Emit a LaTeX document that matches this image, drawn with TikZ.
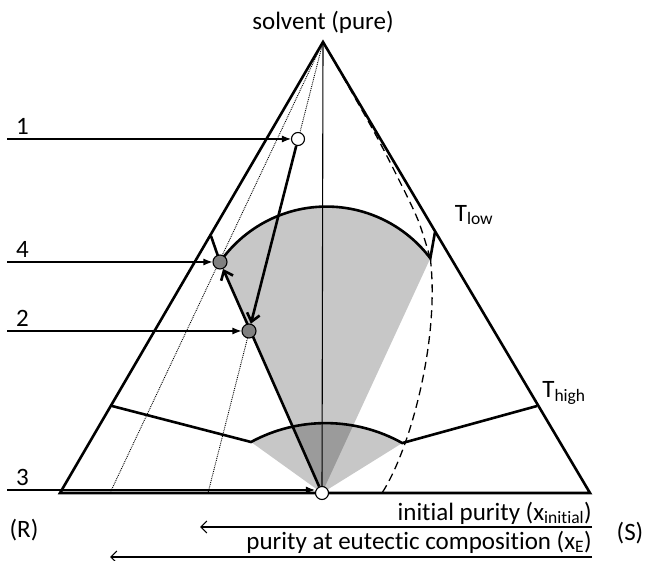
\documentclass[tikz,border=0pt]{standalone}
\usepackage{fontspec}
\setmainfont{Carlito}[Ligatures=CommonOff]
\usetikzlibrary{arrows.meta}
\pgfdeclarelayer{back}
\pgfsetlayers{back,main}

\begin{document}
\begin{tikzpicture}[x=1pt, y=1pt, font=\fontsize{25}{30}\selectfont,
    edge/.style={line width=2.6pt, line join=miter},
    tie/.style={line width=2.6pt},
    guide/.style={line width=0.9pt, densely dotted},
    eutectic/.style={line width=1.3pt, dash pattern=on 8pt off 5pt},
    pointer/.style={line width=1.1pt, -{Latex[length=9pt, width=7pt]}},
    move/.style={line width=2.6pt, -{Straight Barb[length=8pt, width=13pt, line width=2.6pt]}},
    purity/.style={line width=1.1pt, -{Straight Barb[length=6pt, width=12pt]}},
    fan/.style={fill=black, fill opacity=0.22},
    spot/.style={circle, draw, line width=1.1pt, inner sep=0pt, minimum size=13pt},
    tag/.style={anchor=south west, inner sep=0pt}]
  \useasboundingbox (0,0) rectangle (651,560);
  %% --- corners of the triangle ---
  \coordinate (apex) at (323,518);
  \coordinate (R) at (60,67);
  \coordinate (S) at (590,67);
  %% --- isotherm ends on the edges ---
  \coordinate (lowL) at (211,324);
  \coordinate (lowR) at (435,328);
  \coordinate (highL) at (112,154);
  \coordinate (highR) at (537,154);
  \coordinate (highArcL) at (251,118);
  %% --- dotted lines hit the base here ---
  \coordinate (dotA) at (110,67);
  \coordinate (dotB) at (208,67);
  \coordinate (dashEnd) at (382,67);
  %% --- composition points ---
  \node[spot, fill=white] (n1) at (298,421) {};
  \node[spot, fill=black!50, minimum size=14pt] (n4) at (220,298) {};
  \node[spot, fill=black!50, minimum size=14pt] (n2) at (249,229) {};
  \node[spot, fill=white] (n3) at (322,67) {};
  \begin{pgfonlayer}{back}
    %% --- shaded fans from point 3 ---
    \fill[fan] (n3.center) -- (n4.center) arc[start angle=145, end angle=37, radius=130]
      coordinate (lowArcR) -- cycle;
    \fill[fan] (n3.center) -- (highArcL) arc[start angle=118.4, end angle=60.8, radius=157]
      coordinate (highArcR) -- cycle;
    %% --- tie lines at T_low and T_high ---
    \draw[tie] (lowL) -- (n4.center) arc[start angle=145, end angle=37, radius=130] -- (lowR);
    \draw[tie] (highL) -- (highArcL) arc[start angle=118.4, end angle=60.8, radius=157] -- (highR);
    %% --- guide lines from the apex ---
    \draw[guide] (apex) -- (dotA);
    \draw[guide] (apex) -- (dotB);
    \draw[line width=1.1pt] (apex) -- (n3.center);
    \draw[eutectic] plot[smooth] coordinates {(apex) (372,432) (398,382) (418,340) (lowArcR)};
    \draw[eutectic] (lowArcR) .. controls (440,220) and (410,110) .. (dashEnd);
    %% --- triangle ---
    \draw[edge] (R) -- (apex) -- (S) -- cycle;
    %% --- path of the process ---
    \draw[move] (n1) -- (n2);
    \draw[move] (n3) -- (n4);
  \end{pgfonlayer}
  %% --- numbered pointers from the left ---
  \foreach \k/\y in {1/421, 4/298, 2/229, 3/70} {
    \coordinate (s\k) at (7,\y);
    \node[tag] (lab\k) at ([xshift=9pt, yshift=4pt]s\k) {\k};
  }
  \draw[pointer] (s1) -- (s1 -| n1.west);
  \draw[pointer] (s4) -- (s4 -| n4.west);
  \draw[pointer] (s2) -- (s2 -| n2.west);
  \draw[pointer] (s3) -- (s3 -| n3.west);
  %% --- labels ---
  \node[anchor=base] (solvent) at (323,530) {solvent (pure)};
  \node (Tlow) at (474,345) {T\textsubscript{low}};
  \node (Thigh) at (564,167) {T\textsubscript{high}};
  \node (labR) at (24,30) {(R)};
  \node (labS) at (630,27) {(S)};
  %% --- purity axes along the base ---
  \coordinate (iniR) at (592,33);
  \coordinate (iniL) at (200,33);
  \coordinate (eutR) at (592,3);
  \coordinate (eutL) at (110,3);
  \node[anchor=base east, inner sep=0pt] (initial) at (592,40)
    {initial purity (x\textsubscript{initial})};
  \node[anchor=base east, inner sep=0pt] (eut) at (592,11)
    {purity at eutectic composition (x\textsubscript{E})};
  \draw[purity] (iniR) -- (iniL);
  \draw[purity] (eutR) -- (eutL);
\end{tikzpicture}
\end{document}
